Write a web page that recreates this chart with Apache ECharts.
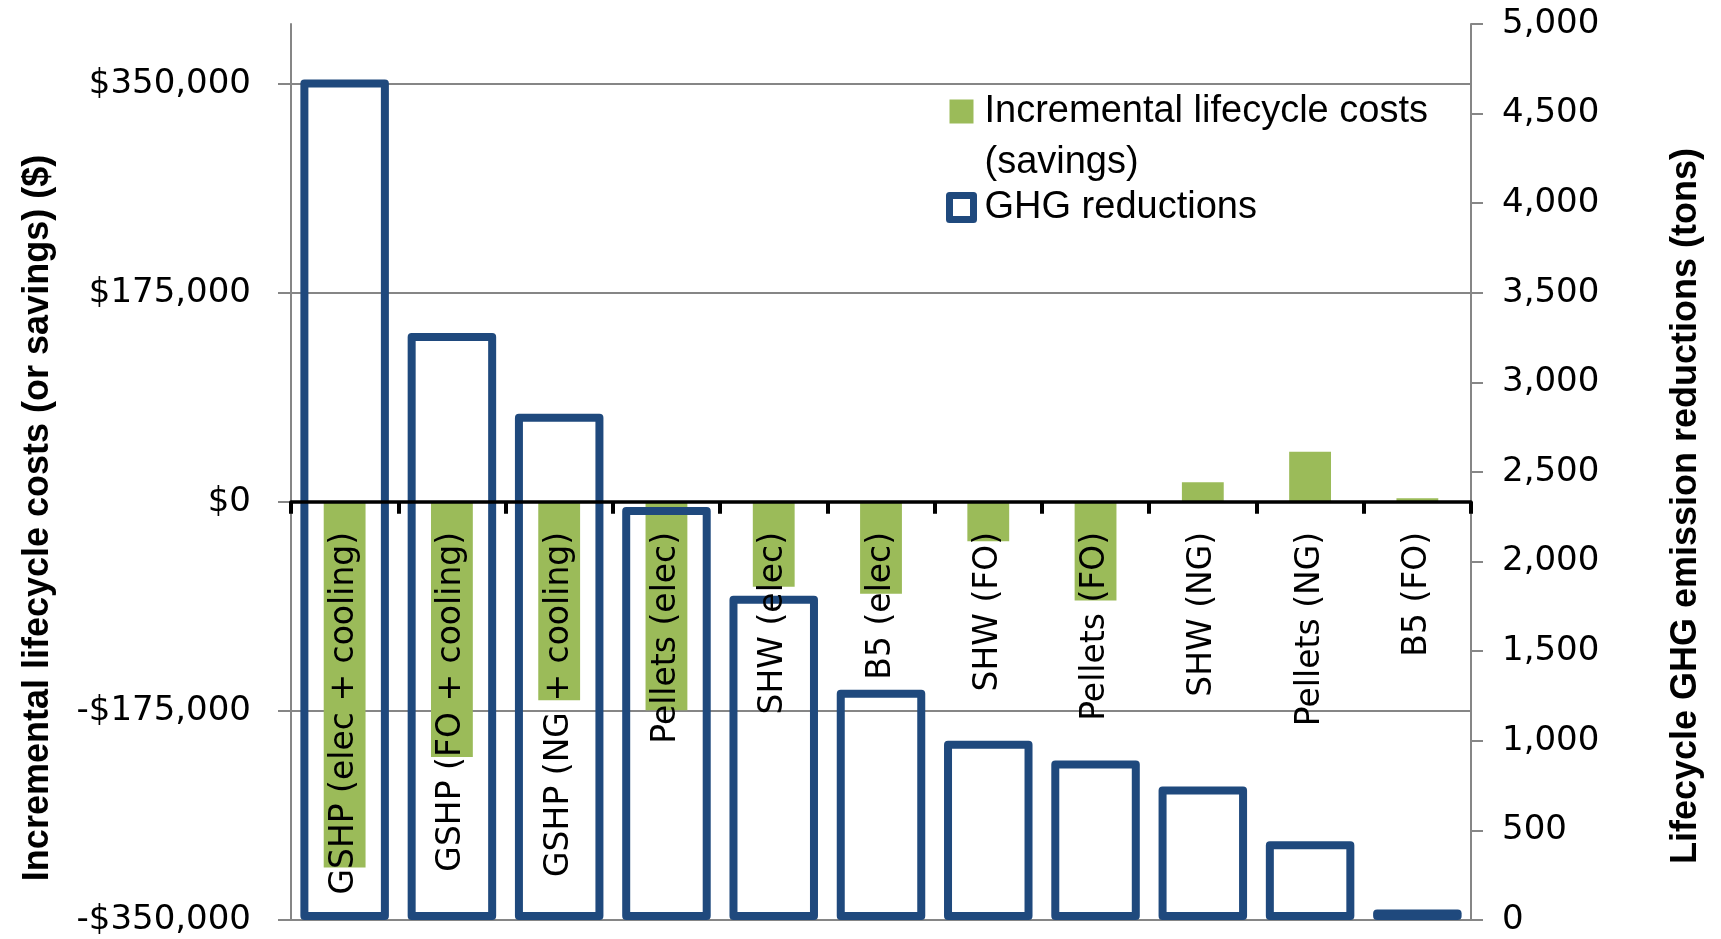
<!DOCTYPE html>
<html>
<head>
<meta charset="utf-8">
<script src="https://cdn.jsdelivr.net/npm/echarts@6/dist/echarts.min.js"></script>
<style>
  html, body { margin: 0; padding: 0; background: #ffffff; }
  #chart { width: 1721px; height: 939px; }
</style>
</head>
<body>
<div id="chart"></div>
<script>
// Heating / renewable options compared
const categories = [
  'GSHP (elec + cooling)', 'GSHP (FO + cooling)', 'GSHP (NG + cooling)',
  'Pellets (elec)', 'SHW (elec)', 'B5 (elec)', 'SHW (FO)', 'Pellets (FO)',
  'SHW (NG)', 'Pellets (NG)', 'B5 (FO)'
];
// Incremental lifecycle costs, $ (negative = savings)
const lifecycleCosts = [-306000, -213500, -166000, -174500, -71000, -77000, -33000, -82500, 16500, 42000, 3000];
// Lifecycle GHG emission reductions, tons
const ghgReductions = [4690, 3275, 2825, 2305, 1810, 1285, 1000, 890, 745, 440, 58];

// Axis ticks
const costTicks = [-350000, -175000, 0, 175000, 350000];
const ghgTicks = [0, 500, 1000, 1500, 2000, 2500, 3000, 3500, 4000, 4500, 5000];

const costName = 'Incremental lifecycle costs (savings)';
const ghgName = 'GHG reductions';

const GREEN = '#9BBB59';
const BLUE = '#1F497D';
const GRID_GREY = '#868686';
const TICK_FONT = 'DejaVu Sans, Verdana, sans-serif';
const TITLE_FONT = 'Liberation Sans, Arial, sans-serif';
const LEGEND_LINE = 51;

const PLOT = { left: 291, right: 250, top: 24, bottom: 19 };

function fmtDollar(v) {
  const s = '$' + Math.abs(v).toLocaleString('en-US');
  return v < 0 ? '-' + s : s;
}

const chart = echarts.init(document.getElementById('chart'), null, { renderer: 'canvas' });

chart.setOption({
  animation: false,
  backgroundColor: '#ffffff',
  grid: [
    // plot area with both bar series
    Object.assign({ containLabel: false, outerBoundsMode: 'none' }, PLOT),
    // band whose lower edge sits on $0 and carries the category axis
    Object.assign({ containLabel: false, outerBoundsMode: 'none' }, PLOT)
  ],
  legend: {
    orient: 'vertical',
    left: 946,
    top: 35,
    padding: 0,
    itemGap: -6,
    itemWidth: 24,
    itemHeight: 24,
    selectedMode: false,
    formatter: function (name) {
      if (name === costName) {
        // empty first row keeps the icon level with the first text row
        return '{e| }\n{a|Incremental lifecycle costs}\n{a|(savings)}';
      }
      return '{a|' + name + '}';
    },
    textStyle: {
      fontFamily: TITLE_FONT, fontSize: 38, lineHeight: LEGEND_LINE, color: '#000',
      rich: {
        e: { fontSize: 38, lineHeight: LEGEND_LINE },
        a: { fontFamily: TITLE_FONT, fontSize: 38, lineHeight: LEGEND_LINE, color: '#000', padding: [0, 0, 0, 6] }
      }
    },
    data: [
      { name: costName, icon: 'rect', itemStyle: { color: GREEN, borderWidth: 0 } },
      { name: ghgName, icon: 'rect',
        itemStyle: { color: '#ffffff', borderColor: BLUE, borderWidth: 7, borderJoin: 'round' } }
    ]
  },
  xAxis: [
    { type: 'category', gridIndex: 0, data: categories, show: false },
    { type: 'category', gridIndex: 0, data: categories, show: false },
    {
      type: 'category',
      gridIndex: 1,
      data: categories,
      position: 'bottom',
      z: 10,
      axisLine: { show: true, onZero: false, lineStyle: { color: '#000', width: 3.5 } },
      axisTick: { show: true, length: 12, lineStyle: { color: '#000', width: 4 } },
      axisLabel: {
        interval: 0, rotate: 90, margin: 30,
        fontFamily: TICK_FONT, fontSize: 33, color: '#000'
      },
      splitLine: { show: false }
    }
  ],
  yAxis: [
    {
      type: 'value',
      gridIndex: 0,
      position: 'left',
      min: -350000,
      max: 400000,
      interval: 175000,
      name: 'Incremental lifecycle costs (or savings) ($)',
      nameLocation: 'middle',
      nameGap: 235,
      nameTextStyle: { fontFamily: TITLE_FONT, fontWeight: 'bold', fontSize: 36, color: '#000', padding: [0, 92, 0, 0] },
      axisLine: { show: true, lineStyle: { color: GRID_GREY, width: 2 } },
      axisTick: { show: true, inside: false, length: 13, customValues: costTicks, lineStyle: { color: GRID_GREY, width: 2 } },
      axisLabel: {
        customValues: costTicks,
        margin: 40, fontFamily: TICK_FONT, fontSize: 34, color: '#000',
        formatter: fmtDollar
      },
      splitLine: { show: true, lineStyle: { color: GRID_GREY, width: 2 } }
    },
    {
      type: 'value',
      gridIndex: 0,
      position: 'right',
      min: 0,
      max: 5000,
      interval: 500,
      name: 'Lifecycle GHG emission reductions (tons)',
      nameLocation: 'middle',
      nameGap: 197,
      nameTextStyle: { fontFamily: TITLE_FONT, fontWeight: 'bold', fontSize: 36, color: '#000', padding: [0, 68, 0, 0] },
      axisLine: { show: true, lineStyle: { color: GRID_GREY, width: 2 } },
      axisTick: { show: true, inside: false, length: 12, customValues: ghgTicks, lineStyle: { color: GRID_GREY, width: 2 } },
      axisLabel: {
        customValues: ghgTicks,
        margin: 31, fontFamily: TICK_FONT, fontSize: 34, color: '#000',
        formatter: function (v) { return v.toLocaleString('en-US'); }
      },
      splitLine: { show: false }
    },
    { type: 'value', gridIndex: 1, show: false, min: 0, max: 1 }
  ],
  series: [
    {
      name: costName,
      type: 'bar',
      xAxisIndex: 0,
      yAxisIndex: 0,
      barWidth: '39%',
      data: lifecycleCosts,
      itemStyle: { color: GREEN },
      z: 2
    },
    {
      name: ghgName,
      type: 'bar',
      xAxisIndex: 1,
      yAxisIndex: 1,
      barWidth: '82.5%',
      data: ghgReductions,
      itemStyle: { color: 'transparent', borderColor: BLUE, borderWidth: 8, borderJoin: 'round' },
      z: 3
    }
  ]
});

// Pin the lower edge of the category-axis band to the $0 level of the cost axis
const zeroY = chart.convertToPixel({ yAxisIndex: 0 }, 0);
chart.setOption({
  grid: [{}, { bottom: chart.getHeight() - zeroY }]
});
</script>
</body>
</html>
